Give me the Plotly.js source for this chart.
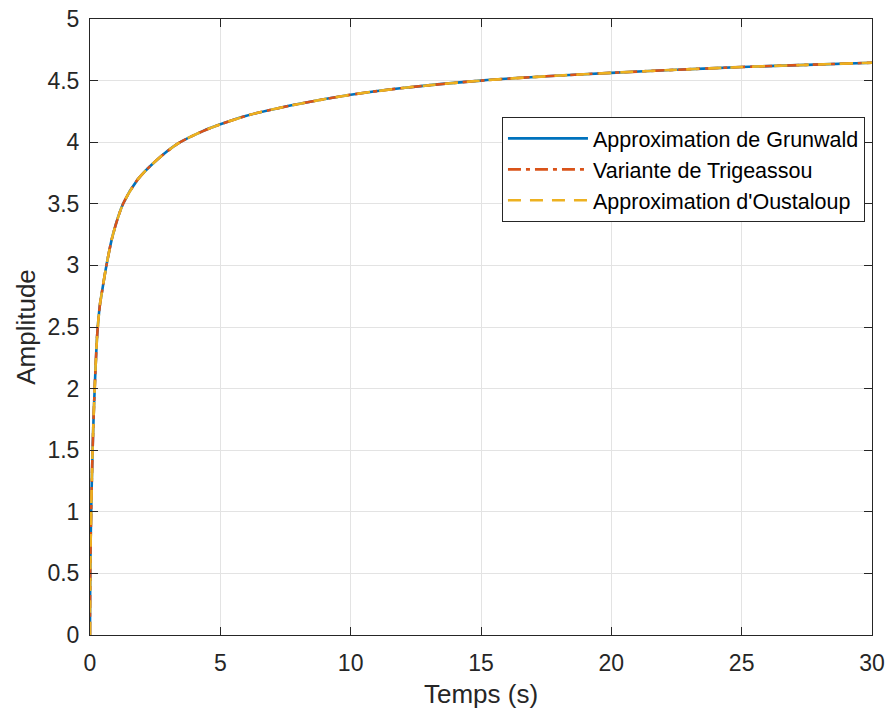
<!DOCTYPE html>
<html>
<head>
<meta charset="utf-8">
<script src="https://cdn.plot.ly/plotly-3.0.1.min.js"></script>
<style>
  html, body { margin: 0; padding: 0; background: #ffffff; }
  #chart { width: 887px; height: 713px; }
</style>
</head>
<body>
<div id="chart"></div>
<script>
// Time samples (s)
const temps = [0, 0.003, 0.011, 0.025, 0.045, 0.07, 0.1, 0.135, 0.18, 0.23, 0.28, 0.38, 0.44, 0.63, 0.88, 1.27, 1.84, 2.48, 3.38, 4.33, 5, 6, 7.3, 8.5, 10, 12, 15, 17.5, 20, 22.5, 25, 27.5, 30];

// Step responses of the three approximations
const grunwald   = [0, 0.26, 0.5, 0.75, 1.0, 1.25, 1.5, 1.75, 2.0, 2.25, 2.45, 2.68, 2.76, 3.0, 3.25, 3.5, 3.70, 3.84, 3.99, 4.09, 4.145, 4.215, 4.28, 4.33, 4.385, 4.44, 4.50, 4.535, 4.563, 4.588, 4.61, 4.628, 4.645];
const trigeassou = [0, 0.26, 0.5, 0.75, 1.0, 1.25, 1.5, 1.75, 2.0, 2.25, 2.45, 2.68, 2.76, 3.0, 3.25, 3.5, 3.70, 3.84, 3.99, 4.09, 4.145, 4.215, 4.28, 4.33, 4.385, 4.44, 4.50, 4.535, 4.563, 4.588, 4.61, 4.628, 4.645];
const oustaloup  = [0, 0.26, 0.5, 0.75, 1.0, 1.25, 1.5, 1.75, 2.0, 2.25, 2.45, 2.68, 2.76, 3.0, 3.25, 3.5, 3.70, 3.84, 3.99, 4.09, 4.145, 4.215, 4.28, 4.33, 4.385, 4.44, 4.50, 4.535, 4.563, 4.588, 4.61, 4.628, 4.645];

const seriesNames = ["Approximation de Grunwald", "Variante de Trigeassou", "Approximation d'Oustaloup"];

const xTicks = [0, 5, 10, 15, 20, 25, 30];
const yTicks = [0, 0.5, 1, 1.5, 2, 2.5, 3, 3.5, 4, 4.5, 5];
const yTickText = ["0", "0.5", "1", "1.5", "2", "2.5", "3", "3.5", "4", "4.5", "5"];

const FONT = "Liberation Sans, Arial, Helvetica, sans-serif";
const INK = "#262626";

const traces = [
  { x: temps, y: grunwald, name: seriesNames[0],
    mode: "lines", line: { color: "#0072BD", width: 2.6, shape: "spline", smoothing: 0.8, dash: "solid" } },
  { x: temps, y: trigeassou, name: seriesNames[1],
    mode: "lines", line: { color: "#D95319", width: 2.6, shape: "spline", smoothing: 0.8, dash: "13px,5px,4px,5px" } },
  { x: temps, y: oustaloup, name: seriesNames[2],
    mode: "lines", line: { color: "#EDB120", width: 2.6, shape: "spline", smoothing: 0.8, dash: "13px,9px" } }
];

const axisCommon = {
  showline: true, linecolor: INK, linewidth: 1, mirror: "ticks",
  ticks: "inside", ticklen: 8, tickwidth: 1, tickcolor: INK,
  showgrid: true, gridcolor: "#e3e3e3", gridwidth: 1,
  zeroline: false,
  tickfont: { family: FONT, size: 23, color: INK }
};

const layout = {
  width: 887, height: 713,
  margin: { l: 90, r: 15, t: 19, b: 78 },
  paper_bgcolor: "#ffffff", plot_bgcolor: "#ffffff",
  showlegend: true,
  xaxis: Object.assign({}, axisCommon, {
    range: [0, 30], tickvals: xTicks, ticktext: xTicks.map(String),
    ticklabelstandoff: 7,
    title: { text: "Temps (s)", font: { family: FONT, size: 26, color: INK }, standoff: 10 }
  }),
  yaxis: Object.assign({}, axisCommon, {
    range: [0, 5], tickvals: yTicks, ticktext: yTickText,
    ticklabelstandoff: 5,
    title: { text: "Amplitude", font: { family: FONT, size: 26, color: INK }, standoff: 4 }
  }),
  legend: {
    x: 0.991, xanchor: "right", y: 0.841, yanchor: "top",
    bgcolor: "#ffffff", bordercolor: INK, borderwidth: 1,
    font: { family: FONT, size: 21.5, color: "#000000" },
    itemwidth: 80
  }
};

Plotly.newPlot("chart", traces, layout, { displayModeBar: false, staticPlot: true });
</script>
</body>
</html>
